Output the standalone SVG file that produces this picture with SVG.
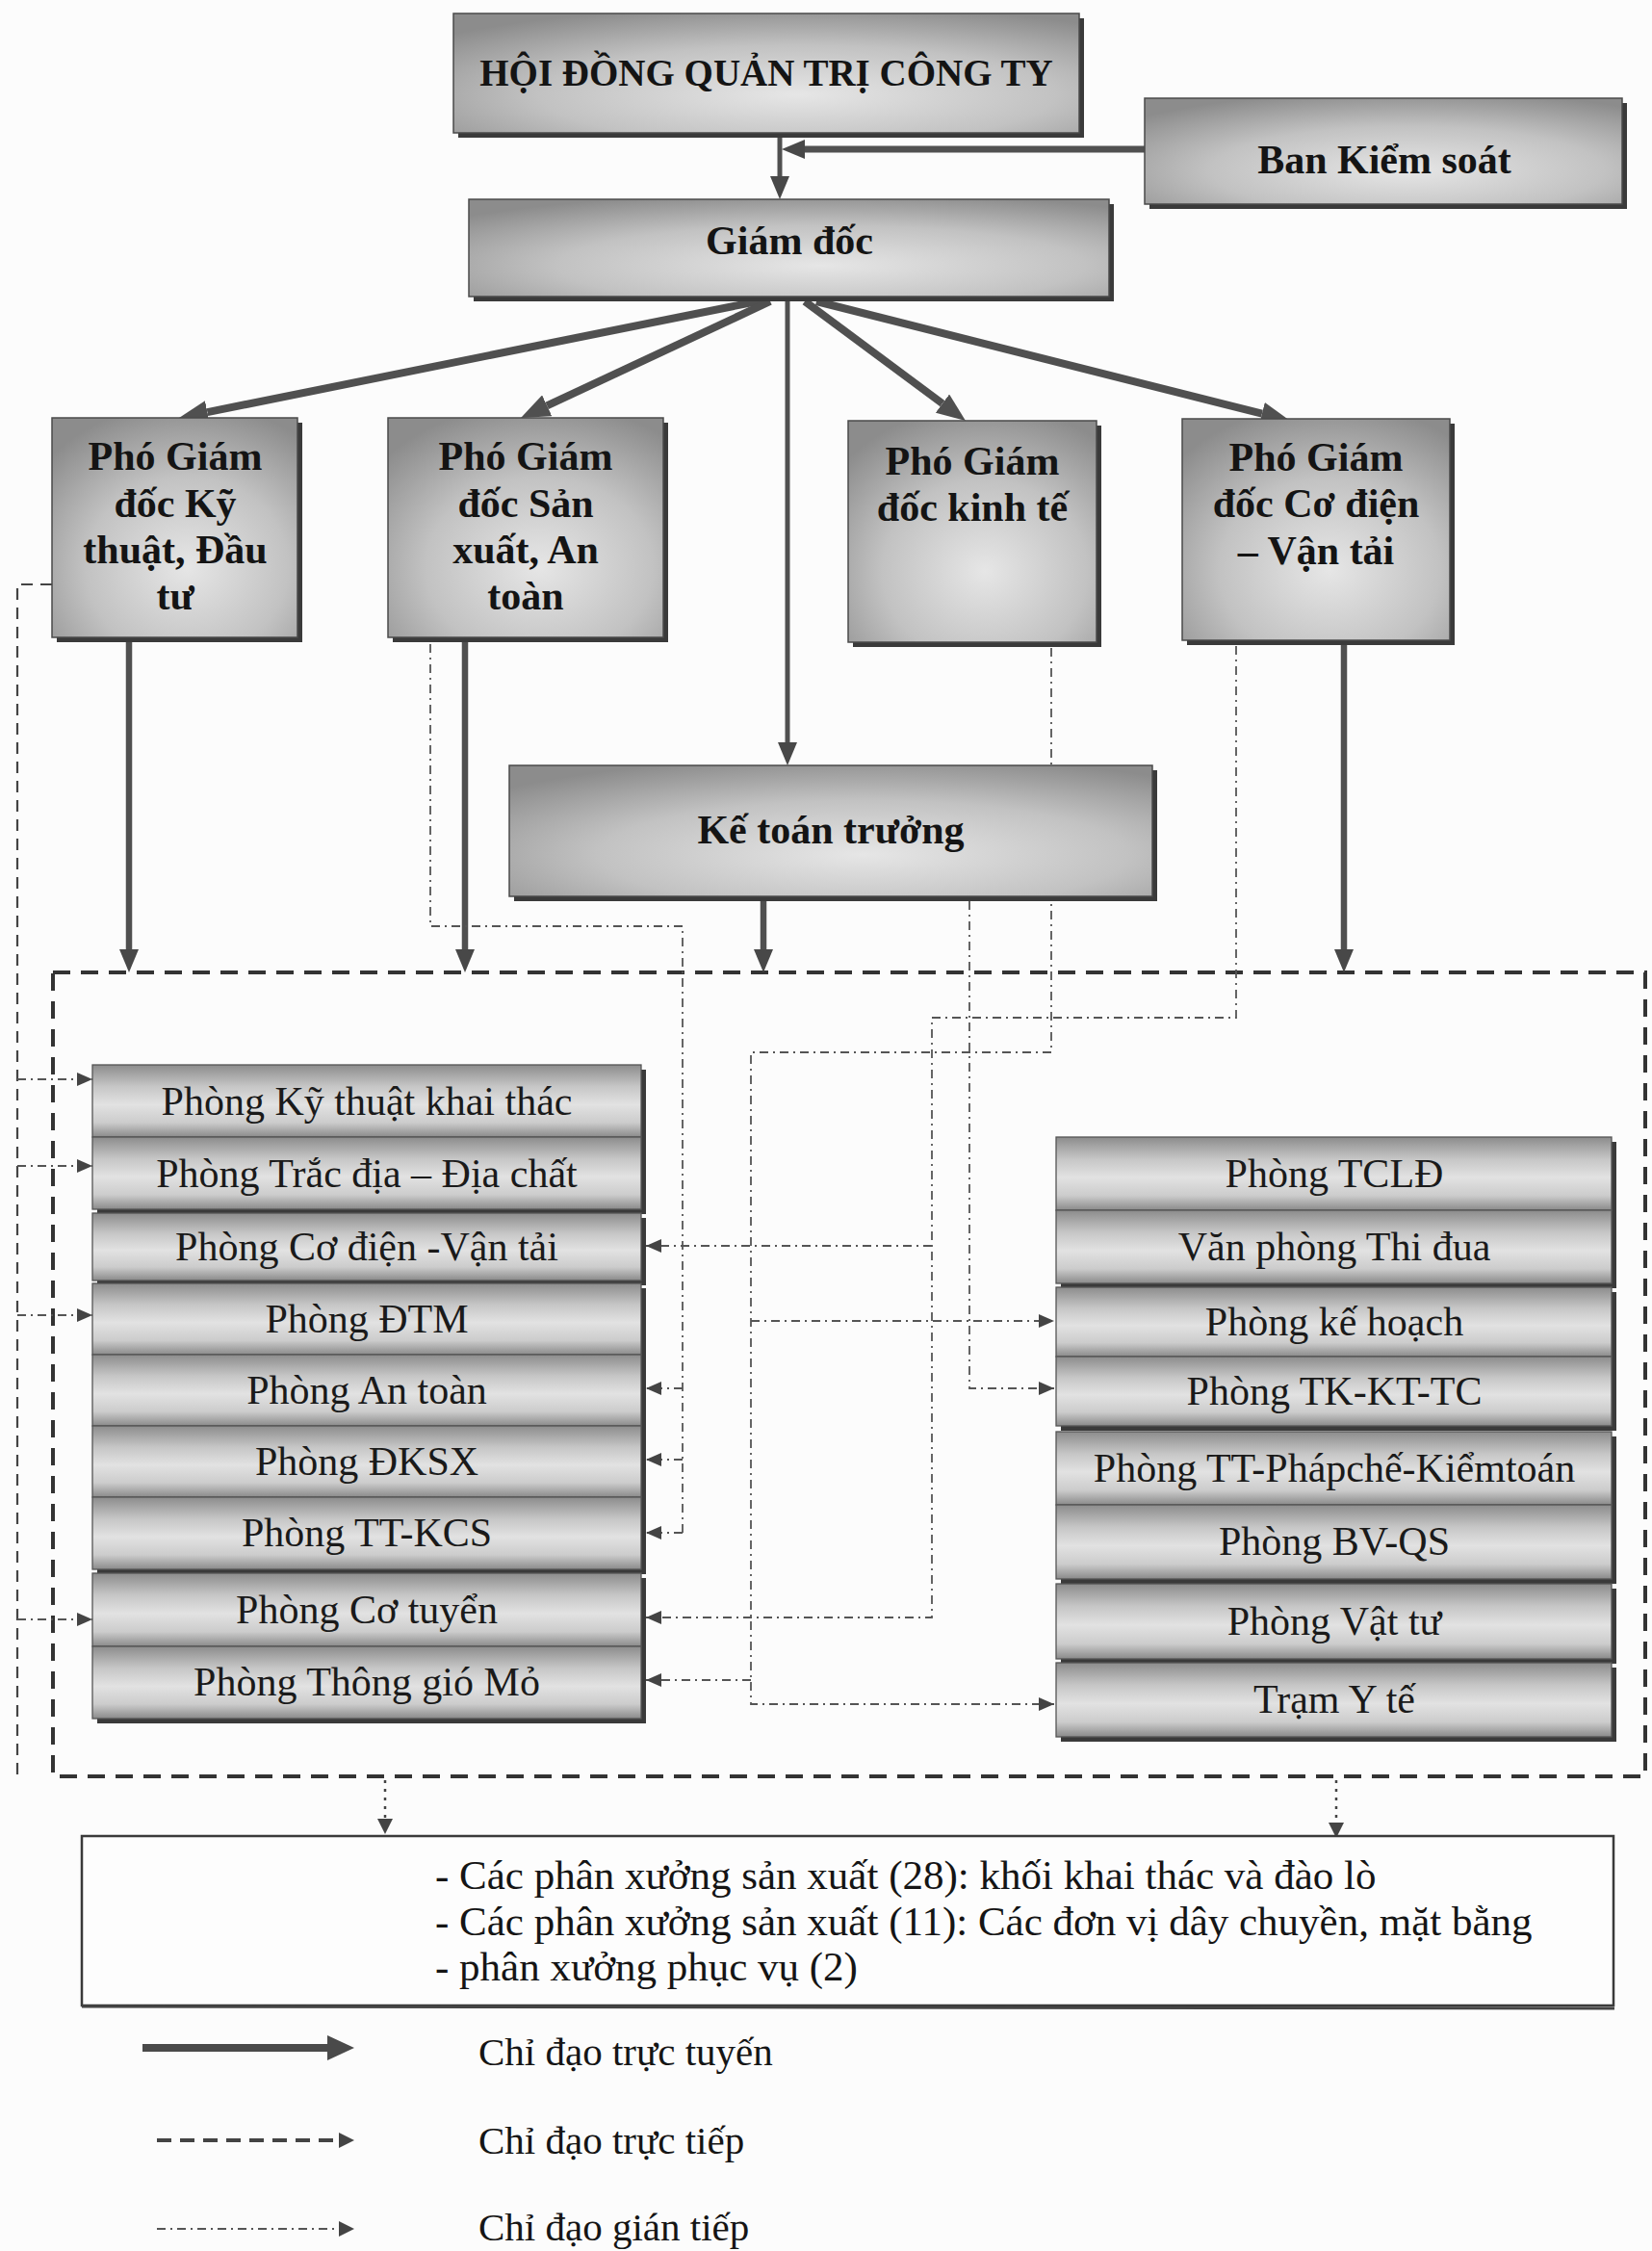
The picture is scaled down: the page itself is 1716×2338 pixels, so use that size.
<svg xmlns="http://www.w3.org/2000/svg" width="1716" height="2338" viewBox="0 0 1716 2338">
<defs>
<style>
.hd{font-family:"Liberation Serif","Times New Roman",serif;font-weight:bold;font-size:42px;text-anchor:middle;fill:#141414}
.dp{font-family:"Liberation Serif","Times New Roman",serif;font-size:42px;text-anchor:middle;fill:#1a1a1a}
.tx{font-family:"Liberation Serif","Times New Roman",serif;font-size:43px;fill:#151515}
.lg{font-family:"Liberation Serif","Times New Roman",serif;font-size:41px;fill:#151515}
.box{fill:url(#gBox);stroke:#4a4a4a;stroke-width:1.5}
.shd{fill:#3a3a3a}
.row{fill:url(#gRow);stroke:#555;stroke-width:1.3}
.solid{fill:none;stroke:#505050;stroke-linecap:butt}
.dd{fill:none;stroke:#555;stroke-width:1.8;stroke-dasharray:9 5 2 5}
.dash{fill:none;stroke:#444;stroke-width:2.2;stroke-dasharray:12 8}
.dot{fill:none;stroke:#444;stroke-width:2.5;stroke-dasharray:3 6}
</style>
<radialGradient id="gBox" cx="0.55" cy="0.68" r="0.75">
<stop offset="0" stop-color="#e6e6e6"/>
<stop offset="0.55" stop-color="#c2c2c2"/>
<stop offset="1" stop-color="#8c8c8c"/>
</radialGradient>
<linearGradient id="gRow" x1="0" y1="0" x2="0" y2="1">
<stop offset="0" stop-color="#8c8c8c"/>
<stop offset="0.3" stop-color="#c6c6c6"/>
<stop offset="0.55" stop-color="#e2e2e2"/>
<stop offset="0.8" stop-color="#cccccc"/>
<stop offset="1" stop-color="#8a8a8a"/>
</linearGradient>
<marker id="aBig" markerUnits="userSpaceOnUse" markerWidth="30" markerHeight="24" refX="0" refY="12" orient="auto">
<path d="M0,0 L30,12 L0,24 z" fill="#505050"/>
</marker>
<marker id="aMed" markerUnits="userSpaceOnUse" markerWidth="24" markerHeight="20" refX="0" refY="10" orient="auto">
<path d="M0,0 L24,10 L0,20 z" fill="#484848"/>
</marker>
<marker id="aSm" markerUnits="userSpaceOnUse" markerWidth="16" markerHeight="14" refX="16" refY="7" orient="auto">
<path d="M0,0 L16,7 L0,14 z" fill="#444"/>
</marker>
<marker id="aSm0" markerUnits="userSpaceOnUse" markerWidth="16" markerHeight="16" refX="0" refY="8" orient="auto">
<path d="M0,0 L16,8 L0,16 z" fill="#444"/>
</marker>
<marker id="aLeg" markerUnits="userSpaceOnUse" markerWidth="28" markerHeight="26" refX="0" refY="13" orient="auto">
<path d="M0,0 L28,13 L0,26 z" fill="#4a4a4a"/>
</marker>
</defs>
<rect x="0" y="0" width="1716" height="2338" fill="#fcfcfc"/>

<g id="frame">
<rect x="55" y="1010" width="1654" height="835" fill="none" stroke="#333" stroke-width="4" stroke-dasharray="18 11"/>
</g>

<g id="connectors">
<path class="solid" d="M810,143 V183" stroke-width="5" marker-end="url(#aMed)"/>
<path class="solid" d="M1189,155 H836" stroke-width="7" marker-end="url(#aMed)"/>
<path class="solid" d="M792,312 L215.4,428.1" stroke-width="8" marker-end="url(#aBig)"/>
<path class="solid" d="M800,313 L568.2,421.3" stroke-width="8" marker-end="url(#aBig)"/>
<path class="solid" d="M818,313 V771" stroke-width="5" marker-end="url(#aMed)"/>
<path class="solid" d="M836,313 L978.9,419.1" stroke-width="8" marker-end="url(#aBig)"/>
<path class="solid" d="M848,313 L1310.9,429.7" stroke-width="8" marker-end="url(#aBig)"/>
<path class="solid" d="M134,667 V986" stroke-width="6.5" marker-end="url(#aMed)"/>
<path class="solid" d="M483,667 V986" stroke-width="6.5" marker-end="url(#aMed)"/>
<path class="solid" d="M793,936 V986" stroke-width="6.5" marker-end="url(#aMed)"/>
<path class="solid" d="M1396,670 V986" stroke-width="6.5" marker-end="url(#aMed)"/>
<path class="dash" d="M54,607 H18 V1845"/>
<path class="dd" d="M18,1121 H96" marker-end="url(#aSm)"/>
<path class="dd" d="M18,1211 H96" marker-end="url(#aSm)"/>
<path class="dd" d="M18,1366 H96" marker-end="url(#aSm)"/>
<path class="dd" d="M18,1682 H96" marker-end="url(#aSm)"/>
<path class="dd" d="M447,669 V962 H709 V1592"/>
<path class="dd" d="M709,1442 H671" marker-end="url(#aSm)"/>
<path class="dd" d="M709,1516 H671" marker-end="url(#aSm)"/>
<path class="dd" d="M709,1592 H671" marker-end="url(#aSm)"/>
<path class="dd" d="M1092,673 V1093 H780 V1770 H1095" marker-end="url(#aSm)"/>
<path class="dd" d="M780,1372 H1095" marker-end="url(#aSm)"/>
<path class="dd" d="M780,1745 H671" marker-end="url(#aSm)"/>
<path class="dd" d="M1284,671 V1057 H968 V1680 H671" marker-end="url(#aSm)"/>
<path class="dd" d="M968,1294 H671" marker-end="url(#aSm)"/>
<path class="dd" d="M1007,936 V1442 H1095" marker-end="url(#aSm)"/>
<path class="dot" d="M400,1849 V1889" marker-end="url(#aSm0)"/>
<path class="dot" d="M1388,1849 V1893" marker-end="url(#aSm0)"/>
</g>

<g id="hdqt">
<rect class="shd" x="476" y="19" width="650" height="124"/>
<rect class="box" x="471" y="14" width="650" height="124"/>
<text class="hd" x="796" y="89" style="font-size:39px">HỘI ĐỒNG QUẢN TRỊ CÔNG TY</text>
</g>
<g id="ban-kiem-soat">
<rect class="shd" x="1194" y="107" width="496" height="110"/>
<rect class="box" x="1189" y="102" width="496" height="110"/>
<text class="hd" x="1438" y="180">Ban Kiểm soát</text>
</g>
<g id="giam-doc">
<rect class="shd" x="492" y="212" width="665" height="101"/>
<rect class="box" x="487" y="207" width="665" height="101"/>
<text class="hd" x="820" y="264">Giám đốc</text>
</g>
<g id="pgd-ky-thuat">
<rect class="shd" x="59" y="439" width="255" height="228"/>
<rect class="box" x="54" y="434" width="255" height="228"/>
<text class="hd" x="182" y="488">Phó Giám</text>
<text class="hd" x="182" y="537">đốc Kỹ</text>
<text class="hd" x="182" y="585">thuật, Đầu</text>
<text class="hd" x="182" y="633">tư</text>
</g>
<g id="pgd-san-xuat">
<rect class="shd" x="408" y="439" width="286" height="228"/>
<rect class="box" x="403" y="434" width="286" height="228"/>
<text class="hd" x="546" y="488">Phó Giám</text>
<text class="hd" x="546" y="537">đốc Sản</text>
<text class="hd" x="546" y="585">xuất, An</text>
<text class="hd" x="546" y="633">toàn</text>
</g>
<g id="pgd-kinh-te">
<rect class="shd" x="886" y="442" width="258" height="230"/>
<rect class="box" x="881" y="437" width="258" height="230"/>
<text class="hd" x="1010" y="493">Phó Giám</text>
<text class="hd" x="1010" y="541">đốc kinh tế</text>
</g>
<g id="pgd-co-dien">
<rect class="shd" x="1233" y="440" width="278" height="230"/>
<rect class="box" x="1228" y="435" width="278" height="230"/>
<text class="hd" x="1367" y="489">Phó Giám</text>
<text class="hd" x="1367" y="537">đốc Cơ điện</text>
<text class="hd" x="1367" y="586">– Vận tải</text>
</g>
<g id="ke-toan-truong">
<rect class="shd" x="534" y="800" width="668" height="136"/>
<rect class="box" x="529" y="795" width="668" height="136"/>
<text class="hd" x="863" y="876">Kế toán trưởng</text>
</g>

<g id="left-group-1">
<rect class="shd" x="101" y="1111" width="570" height="150"/>
<rect class="row" x="96" y="1106" width="570" height="75"/>
<rect class="row" x="96" y="1181" width="570" height="75"/>
<text class="dp" x="381" y="1158">Phòng Kỹ thuật khai thác</text>
<text class="dp" x="381" y="1233">Phòng Trắc địa – Địa chất</text>
</g>
<g id="left-group-2">
<rect class="shd" x="101" y="1265" width="570" height="70"/>
<rect class="row" x="96" y="1260" width="570" height="70"/>
<text class="dp" x="381" y="1309">Phòng Cơ điện -Vận tải</text>
</g>
<g id="left-group-3">
<rect class="shd" x="101" y="1338" width="570" height="297"/>
<rect class="row" x="96" y="1333" width="570" height="74"/>
<rect class="row" x="96" y="1407" width="570" height="74"/>
<rect class="row" x="96" y="1481" width="570" height="74"/>
<rect class="row" x="96" y="1555" width="570" height="75"/>
<text class="dp" x="381" y="1384">Phòng ĐTM</text>
<text class="dp" x="381" y="1458">Phòng An toàn</text>
<text class="dp" x="381" y="1532">Phòng ĐKSX</text>
<text class="dp" x="381" y="1606">Phòng TT-KCS</text>
</g>
<g id="left-group-4">
<rect class="shd" x="101" y="1639" width="570" height="151"/>
<rect class="row" x="96" y="1634" width="570" height="76"/>
<rect class="row" x="96" y="1710" width="570" height="75"/>
<text class="dp" x="381" y="1686">Phòng Cơ tuyển</text>
<text class="dp" x="381" y="1761">Phòng Thông gió Mỏ</text>
</g>

<g id="right-group-1">
<rect class="shd" x="1102" y="1186" width="577" height="152"/>
<rect class="row" x="1097" y="1181" width="577" height="76"/>
<rect class="row" x="1097" y="1257" width="577" height="76"/>
<text class="dp" x="1386" y="1233">Phòng TCLĐ</text>
<text class="dp" x="1386" y="1309">Văn phòng Thi đua</text>
</g>
<g id="right-group-2">
<rect class="shd" x="1102" y="1342" width="577" height="144"/>
<rect class="row" x="1097" y="1337" width="577" height="72"/>
<rect class="row" x="1097" y="1409" width="577" height="72"/>
<text class="dp" x="1386" y="1387">Phòng kế hoạch</text>
<text class="dp" x="1386" y="1459">Phòng TK-KT-TC</text>
</g>
<g id="right-group-3">
<rect class="shd" x="1102" y="1492" width="577" height="153"/>
<rect class="row" x="1097" y="1487" width="577" height="76"/>
<rect class="row" x="1097" y="1563" width="577" height="77"/>
<text class="dp" x="1386" y="1539">Phòng TT-Phápchế-Kiểmtoán</text>
<text class="dp" x="1386" y="1615">Phòng BV-QS</text>
</g>
<g id="right-group-4">
<rect class="shd" x="1102" y="1650" width="577" height="78"/>
<rect class="row" x="1097" y="1645" width="577" height="78"/>
<text class="dp" x="1386" y="1698">Phòng Vật tư</text>
</g>
<g id="right-group-5">
<rect class="shd" x="1102" y="1732" width="577" height="77"/>
<rect class="row" x="1097" y="1727" width="577" height="77"/>
<text class="dp" x="1386" y="1779">Trạm Y tế</text>
</g>

<g id="workshops">
<rect x="85" y="1907" width="1591" height="176" fill="#fdfdfd" stroke="#3a3a3a" stroke-width="2.5"/>
<line x1="85" y1="2084" x2="1677" y2="2086" stroke="#444" stroke-width="3"/>
<text class="tx" x="452" y="1962">- Các phân xưởng sản xuất (28): khối khai thác và đào lò</text>
<text class="tx" x="452" y="2010">- Các phân xưởng sản xuất (11): Các đơn vị dây chuyền, mặt bằng</text>
<text class="tx" x="452" y="2057">- phân xưởng phục vụ (2)</text>
</g>

<g id="legend">
<path d="M148,2127 H340" fill="none" stroke="#4a4a4a" stroke-width="8" marker-end="url(#aLeg)"/>
<path d="M163,2223 H352" fill="none" stroke="#444" stroke-width="4" stroke-dasharray="15 9" marker-end="url(#aSm0)"/>
<path d="M163,2315 H352" class="dd" marker-end="url(#aSm0)"/>
<text class="lg" x="497" y="2145">Chỉ đạo trực tuyến</text>
<text class="lg" x="497" y="2237">Chỉ đạo trực tiếp</text>
<text class="lg" x="497" y="2327">Chỉ đạo gián tiếp</text>
</g>
</svg>
